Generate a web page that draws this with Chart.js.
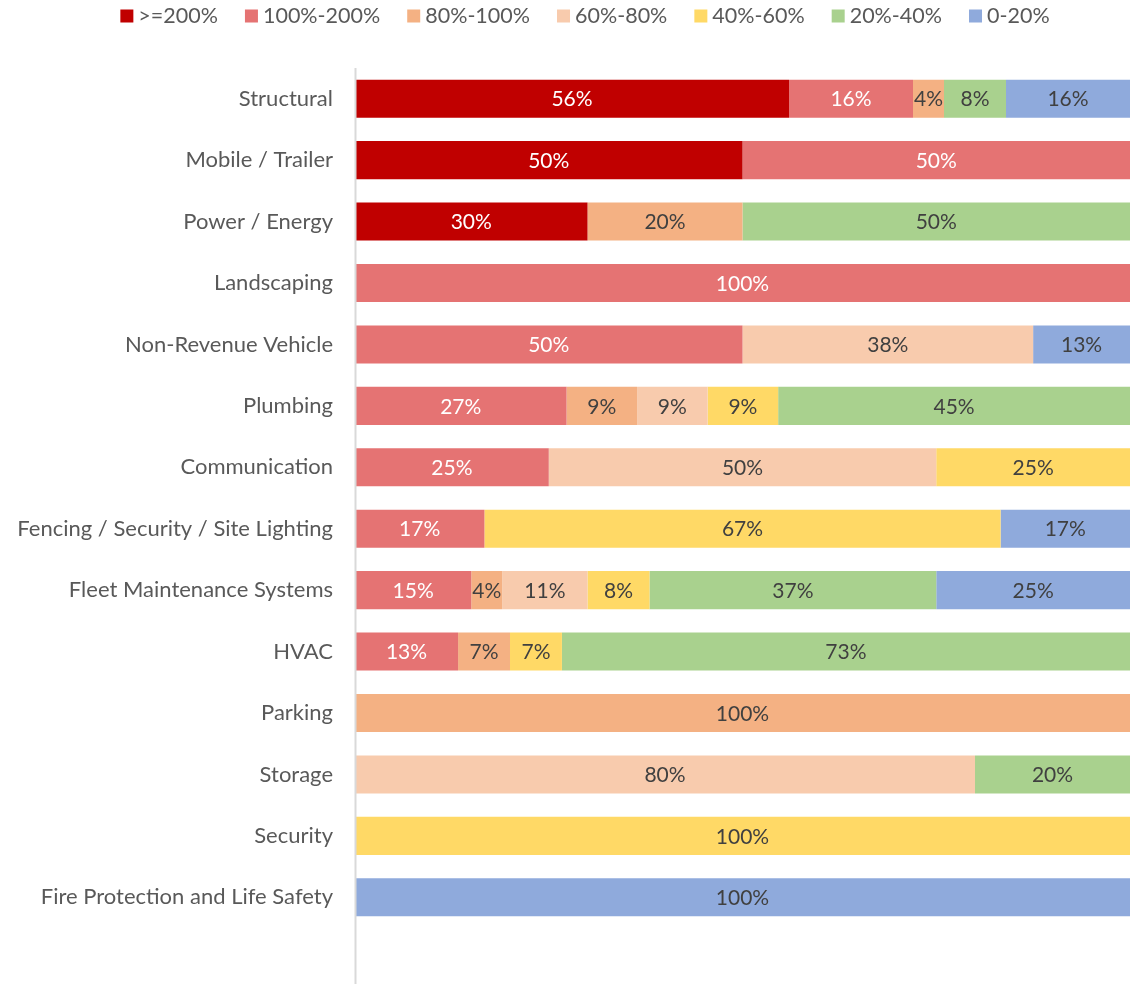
<!DOCTYPE html>
<html>
<head>
<meta charset="utf-8">
<script src="https://cdn.jsdelivr.net/npm/chart.js@4.4.1/dist/chart.umd.min.js"></script>
<style>
  html, body { margin: 0; padding: 0; background: #fff; }
  canvas { display: block; }
</style>
</head>
<body>
<canvas id="shareChart" width="1135" height="984"></canvas>
<script>
const FONT = 'Lato';

/* Categories, top to bottom */
const categories = [
    'Structural', 'Mobile / Trailer', 'Power / Energy', 'Landscaping',
    'Non-Revenue Vehicle', 'Plumbing', 'Communication',
    'Fencing / Security / Site Lighting', 'Fleet Maintenance Systems',
    'HVAC', 'Parking', 'Storage', 'Security', 'Fire Protection and Life Safety'
];

/* Series (share of assets in each bucket, %) */
const seriesNames = ['>=200%', '100%-200%', '80%-100%', '60%-80%', '40%-60%', '20%-40%', '0-20%'];
const seriesColors = ['#C00000', '#E57373', '#F4B183', '#F8CBAD', '#FFD966', '#A9D18E', '#8FAADC'];
const labelColors = ['#FFFFFF', '#FFFFFF', '#404040', '#404040', '#404040', '#404040', '#404040'];

const over200   = [56, 50, 30, null, null, null, null, null, null, null, null, null, null, null];
const p100to200 = [16, 50, null, 100, 50, 27.3, 25, 16.7, 15, 13.3, null, null, null, null];
const p80to100  = [4, null, 20, null, null, 9.1, null, null, 4, 6.7, 100, null, null, null];
const p60to80   = [null, null, null, null, 37.5, 9.1, 50, null, 11, null, null, 80, null, null];
const p40to60   = [null, null, null, null, null, 9.1, 25, 66.6, 8, 6.7, null, null, 100, null];
const p20to40   = [8, null, 50, null, null, 45.4, null, null, 37, 73.3, null, 20, null, null];
const p0to20    = [16, null, null, null, 12.5, null, null, 16.7, 25, null, null, null, null, 100];

const seriesValues = [over200, p100to200, p80to100, p60to80, p40to60, p20to40, p0to20];

const datasets = seriesNames.map((name, i) => ({
    label: name,
    data: seriesValues[i],
    backgroundColor: seriesColors[i],
    borderWidth: 0,
    barPercentage: 0.62,
    categoryPercentage: 1.0
}));

/* Vertical axis line, running down to the bottom edge */
const axisLine = {
    id: 'axisLine',
    afterDatasetsDraw(chart) {
        const ctx = chart.ctx;
        const x = chart.chartArea.left + 0.5;
        ctx.save();
        ctx.strokeStyle = '#D9D9D9';
        ctx.lineWidth = 2;
        ctx.beginPath();
        ctx.moveTo(x, chart.chartArea.top);
        ctx.lineTo(x, chart.height);
        ctx.stroke();
        ctx.restore();
    }
};

/* Percent labels centred in each segment */
const valueLabels = {
    id: 'valueLabels',
    afterDatasetsDraw(chart) {
        const ctx = chart.ctx;
        ctx.save();
        ctx.font = '21px ' + FONT;
        ctx.textAlign = 'center';
        ctx.textBaseline = 'middle';
        chart.data.datasets.forEach((ds, i) => {
            const meta = chart.getDatasetMeta(i);
            meta.data.forEach((bar, j) => {
                const v = ds.data[j];
                if (v == null) return;
                ctx.fillStyle = labelColors[i];
                ctx.fillText(Math.round(v) + '%', (bar.x + bar.base) / 2, bar.y + 1);
            });
        });
        ctx.restore();
    }
};

/* Legend row along the top */
const topLegend = {
    id: 'topLegend',
    afterDraw(chart) {
        const ctx = chart.ctx;
        const box = 13, gap = 5, spacing = 27, cy = 16;
        ctx.save();
        ctx.font = '21.5px ' + FONT;
        ctx.textBaseline = 'middle';
        ctx.textAlign = 'left';
        const widths = seriesNames.map(t => ctx.measureText(t).width);
        const total = widths.reduce((a, w) => a + box + gap + w, 0) + spacing * (seriesNames.length - 1);
        let x = 585 - total / 2;
        seriesNames.forEach((t, i) => {
            ctx.fillStyle = seriesColors[i];
            ctx.fillRect(x, cy - box / 2, box, box);
            ctx.fillStyle = '#595959';
            ctx.fillText(t, x + box + gap, cy);
            x += box + gap + widths[i] + spacing;
        });
        ctx.restore();
    }
};

const config = {
    type: 'bar',
    data: { labels: categories, datasets: datasets },
    options: {
        indexAxis: 'y',
        responsive: false,
        animation: false,
        layout: { padding: { top: 68, bottom: 56, left: 0, right: 5 } },
        plugins: {
            legend: { display: false },
            tooltip: { enabled: false }
        },
        scales: {
            x: {
                stacked: true,
                min: 0,
                max: 100,
                display: false
            },
            y: {
                stacked: true,
                grid: { display: false, drawTicks: false },
                border: { display: false },
                ticks: {
                    color: '#595959',
                    font: { family: FONT, size: 22 },
                    padding: 22
                },
                afterFit(scale) { scale.width = 355; }
            }
        }
    },
    plugins: [axisLine, valueLabels, topLegend]
};

new Chart(document.getElementById('shareChart'), config);
</script>
</body>
</html>
